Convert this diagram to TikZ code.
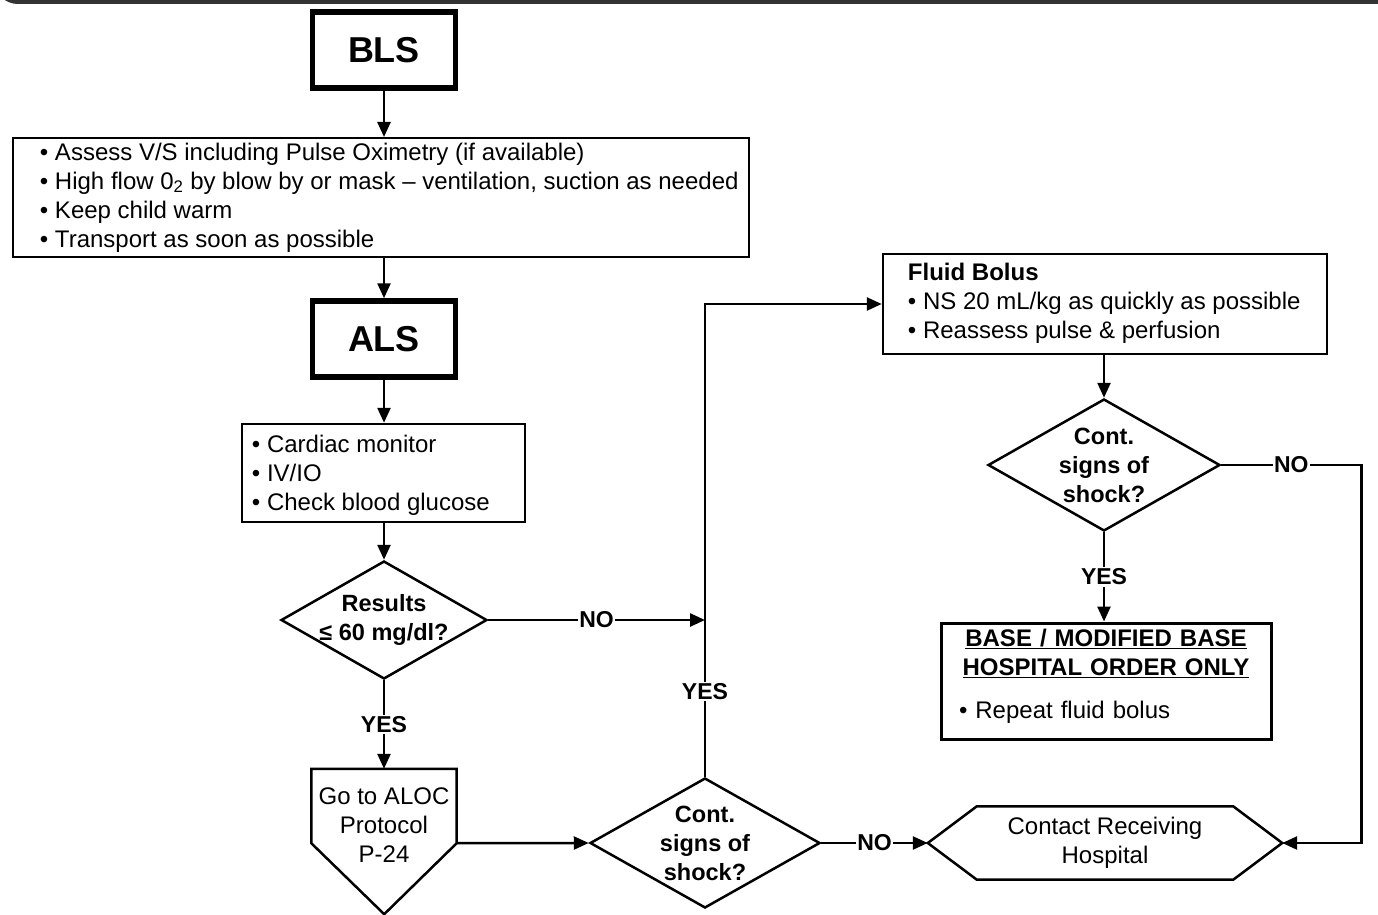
\documentclass[tikz,border=0pt]{standalone}
\usepackage{fontspec}
\setmainfont{Liberation Sans}
\usetikzlibrary{arrows.meta, shapes.geometric}

\begin{document}
\begin{tikzpicture}[x=1pt, y=-1pt,
  font=\fontsize{24}{29}\selectfont,
  line/.style={line width=2.5pt, line join=miter},
  arr/.style={line width=2.5pt, -{Triangle[length=15pt,width=13pt]}},
  box/.style={draw, line width=2.5pt, inner sep=0pt},
  txt/.style={anchor=west, align=left, inner sep=0pt},
  bigbox/.style={draw, line width=5.5pt, minimum width=143pt, minimum height=76pt, font=\fontsize{36}{40}\selectfont\bfseries},
  dia/.style={draw, diamond, line width=2.5pt, inner sep=0pt},
  dtext/.style={align=center, font=\fontsize{23.5}{29}\selectfont\bfseries},
  yn/.style={fill=white, inner sep=1.5pt, font=\fontsize{23}{29}\selectfont\bfseries}]
  \useasboundingbox (0,0) rectangle (1378,915);
  % edge of the page frame
  \draw[line width=4pt, black!80, rounded corners=22pt] (-4,-40) |- (1390,2);

  % left column
  \node[bigbox] (bls) at (384,50) {BLS};
  \node[box, minimum width=736pt, minimum height=118.5pt,
    label={[txt, xshift=28pt]west:\textbullet\ Assess V/S including Pulse Oximetry (if available)\\
     \textbullet\ High flow 0\textsubscript{2} by blow by or mask – ventilation, suction as needed\\
     \textbullet\ Keep child warm\\
     \textbullet\ Transport as soon as possible}] (bas) at (381,197.5) {};
  \node[bigbox] (als) at (384,339) {ALS};
  \node[box, minimum width=283pt, minimum height=98pt,
    label={[txt, xshift=11pt, yshift=-2.5pt]west:\textbullet\ Cardiac monitor\\ \textbullet\ IV/IO\\ \textbullet\ Check blood glucose}] (mon) at (383.5,473) {};
  \node[dia, minimum width=206pt, minimum height=118pt,
    label={[dtext]center:Results\\≤ 60 mg/dl?}] (res) at (384,620) {};
  \node[minimum width=145pt, minimum height=74pt, inner sep=0pt,
    label={[align=center, yshift=-19pt]center:Go to ALOC\\Protocol\\P-24}] (aloc) at (384,806) {};
  \draw[line] (aloc.south west) -- (aloc.north west) -- (aloc.north east) -- (aloc.south east) -- ++(-72.5,71) -- cycle;

  % middle and right
  \node[dia, minimum width=230pt, minimum height=130pt,
    label={[dtext]center:Cont.\\signs of\\shock?}] (sh2) at (705,843) {};
  \node[box, minimum width=444pt, minimum height=100pt,
    label={[txt, xshift=26pt, yshift=1pt]west:\textbf{Fluid Bolus}\\ \textbullet\ NS 20 mL/kg as quickly as possible\\ \textbullet\ Reassess pulse \& perfusion}] (fb) at (1105,304) {};
  \node[dia, minimum width=232pt, minimum height=132pt,
    label={[dtext]center:Cont.\\signs of\\shock?}] (sh1) at (1104,465) {};
  \node[box, line width=3pt, minimum width=330pt, minimum height=116pt,
    label={[align=center, text width=294pt, yshift=5pt]center:\textbf{\underline{BASE / MODIFIED BASE}}\\ \textbf{\underline{HOSPITAL ORDER ONLY}}\\[14pt]
     \makebox[\linewidth][l]{\textbullet\ Repeat fluid bolus}}] (base) at (1106,681) {};
  \node[minimum width=256pt, minimum height=73pt, inner sep=0pt, align=center] (crh) at (1105,843)
    {Contact Receiving\\Hospital};
  \path (crh.west) ++(-49,0) coordinate (crhw);
  \path (crh.east) ++(49,0) coordinate (crhe);
  \draw[line] (crh.north west) -- (crh.north east) -- (crhe) -- (crh.south east) -- (crh.south west) -- (crhw) -- cycle;

  % connectors
  \draw[arr] (bls.south) -- (bls.south |- bas.north);
  \draw[arr] (bas.south -| als.north) -- (als.north);
  \draw[arr] (als.south) -- (als.south |- mon.north);
  \draw[arr] (mon.south -| res.north) -- (res.north);
  \draw[arr] (res.east) -- node[yn]{NO} (res.east -| sh2.north);
  \draw[arr] (res.south) -- node[yn]{YES} (aloc.north);
  \draw[arr] (aloc.south east) -- (sh2.west);
  \draw[arr] (sh2.north) |- node[yn, pos=0.09]{YES} (fb.west);
  \draw[arr] (fb.south -| sh1.north) -- (sh1.north);
  \draw[arr] (sh1.south) -- node[yn]{YES} (sh1.south |- base.north);
  \draw[arr] (sh1.east) -- node[yn]{NO} ++(140,0) |- (crhe);
  \draw[arr] (sh2.east) -- node[yn]{NO} (crhw);
\end{tikzpicture}
\end{document}
